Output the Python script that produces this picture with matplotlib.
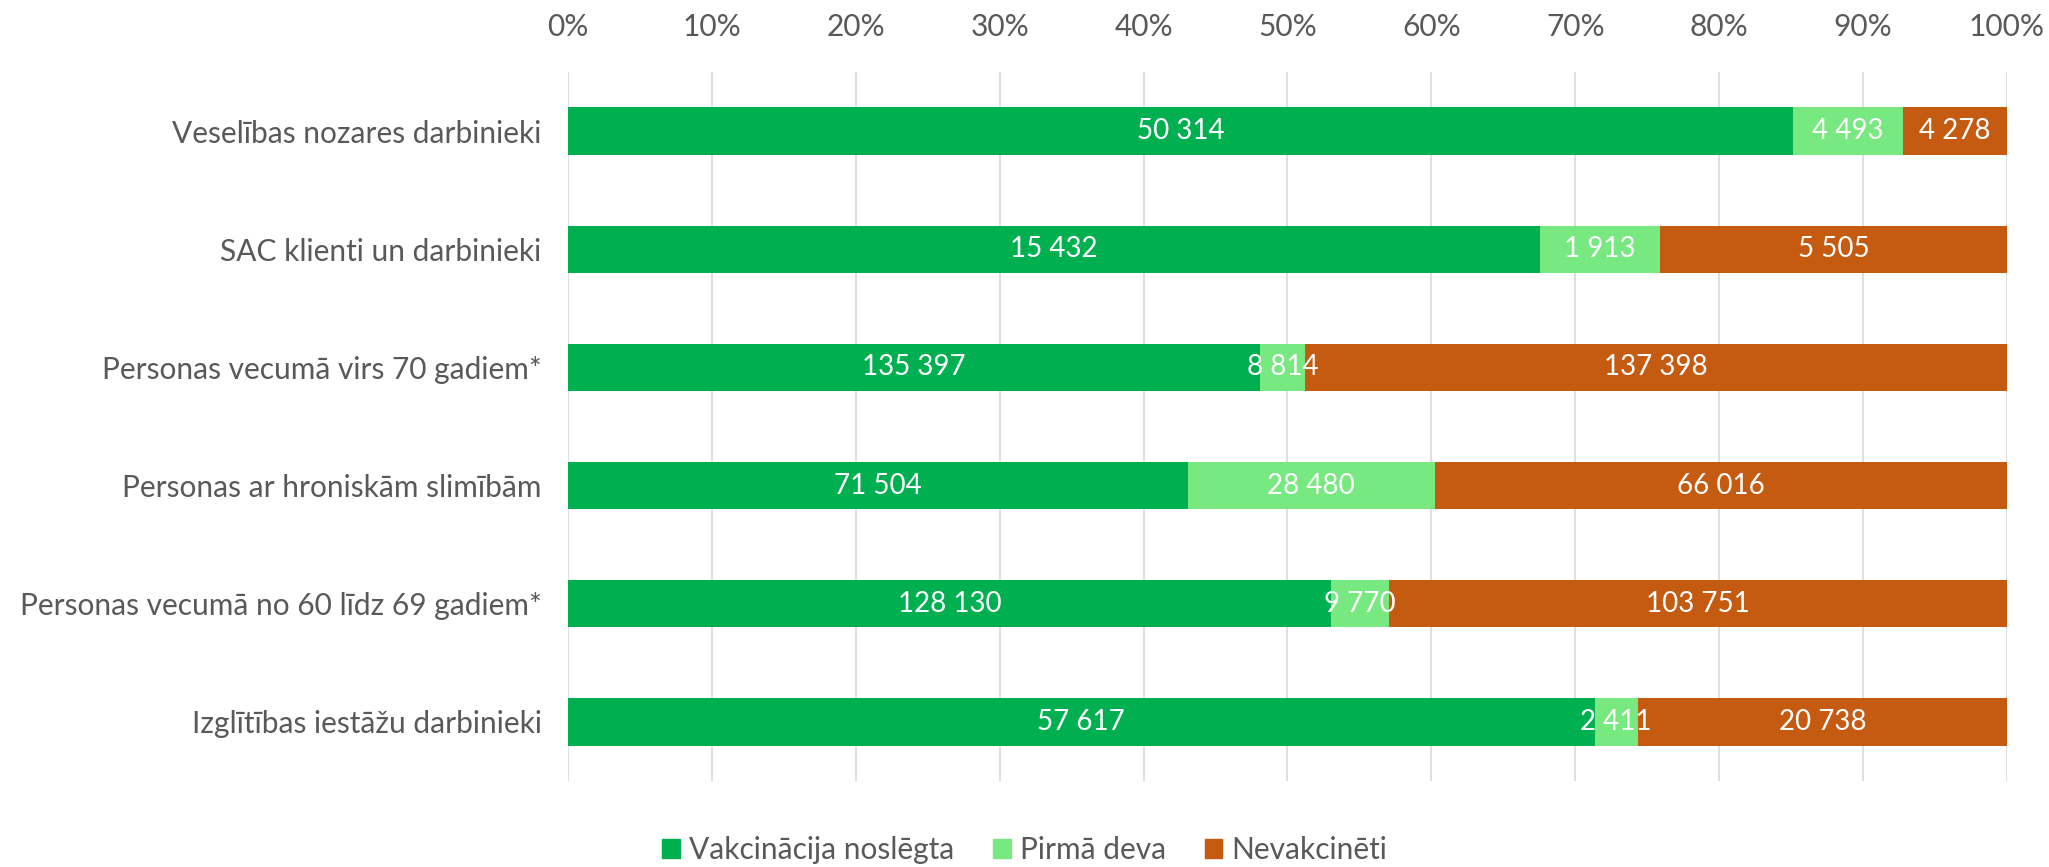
import numpy as np
import matplotlib.pyplot as plt
from matplotlib.patches import Patch
from matplotlib.ticker import PercentFormatter

# Chart data
categories = [
    "Veselības nozares darbinieki",
    "SAC klienti un darbinieki",
    "Personas vecumā virs 70 gadiem*",
    "Personas ar hroniskām slimībām",
    "Personas vecumā no 60 līdz 69 gadiem*",
    "Izglītības iestāžu darbinieki",
]
completed = [50314, 15432, 135397, 71504, 128130, 57617]
first_dose = [4493, 1913, 8814, 28480, 9770, 2411]
unvaccinated = [4278, 5505, 137398, 66016, 103751, 20738]
series_names = ["Vakcinācija noslēgta", "Pirmā deva", "Nevakcinēti"]
x_ticks = [0, 10, 20, 30, 40, 50, 60, 70, 80, 90, 100]

colors = ["#00B050", "#77E980", "#C55A11"]
text_color = "#595959"

plt.rcParams["font.family"] = ["Lato", "DejaVu Sans"]


def fmt_num(v):
    # space as thousands separator
    return f"{v:,}".replace(",", " ")


series = [np.array(completed), np.array(first_dose), np.array(unvaccinated)]
totals = series[0] + series[1] + series[2]

fig = plt.figure(figsize=(20.49, 8.67), dpi=100)
ax = fig.add_axes([0.2772, 0.0992, 0.7023, 0.8178])

y = np.arange(len(categories))
left = np.zeros(len(categories))
for vals, col in zip(series, colors):
    share = vals / totals * 100
    ax.barh(y, share, left=left, height=0.4, color=col, zorder=3)
    for yi, l, w, v in zip(y, left, share, vals):
        ax.text(l + w / 2, yi, fmt_num(v), ha="center", va="center",
                color="white", fontsize=20, zorder=4)
    left = left + share

ax.set_xlim(0, 100)
ax.set_ylim(len(categories) - 0.5, -0.5)
ax.set_yticks(y)
ax.set_yticklabels(categories)
ax.set_xticks(x_ticks)
ax.xaxis.set_major_formatter(PercentFormatter(decimals=0))
ax.xaxis.tick_top()
ax.tick_params(axis="both", length=0, labelsize=21.5, labelcolor=text_color)
ax.tick_params(axis="y", pad=19)
ax.tick_params(axis="x", pad=22)
ax.grid(axis="x", color="#D9D9D9", linewidth=1.2, zorder=0)
for s in ax.spines.values():
    s.set_visible(False)

handles = [Patch(color=c, label=n) for c, n in zip(colors, series_names)]
leg = fig.legend(handles=handles, loc="lower center", bbox_to_anchor=(0.5, -0.028),
                 ncol=3, frameon=False, fontsize=21.5, handlelength=0.6,
                 handleheight=0.6, handletextpad=0.3, columnspacing=1.3)
for t in leg.get_texts():
    t.set_color(text_color)

fig.savefig("out.png", dpi=100)
